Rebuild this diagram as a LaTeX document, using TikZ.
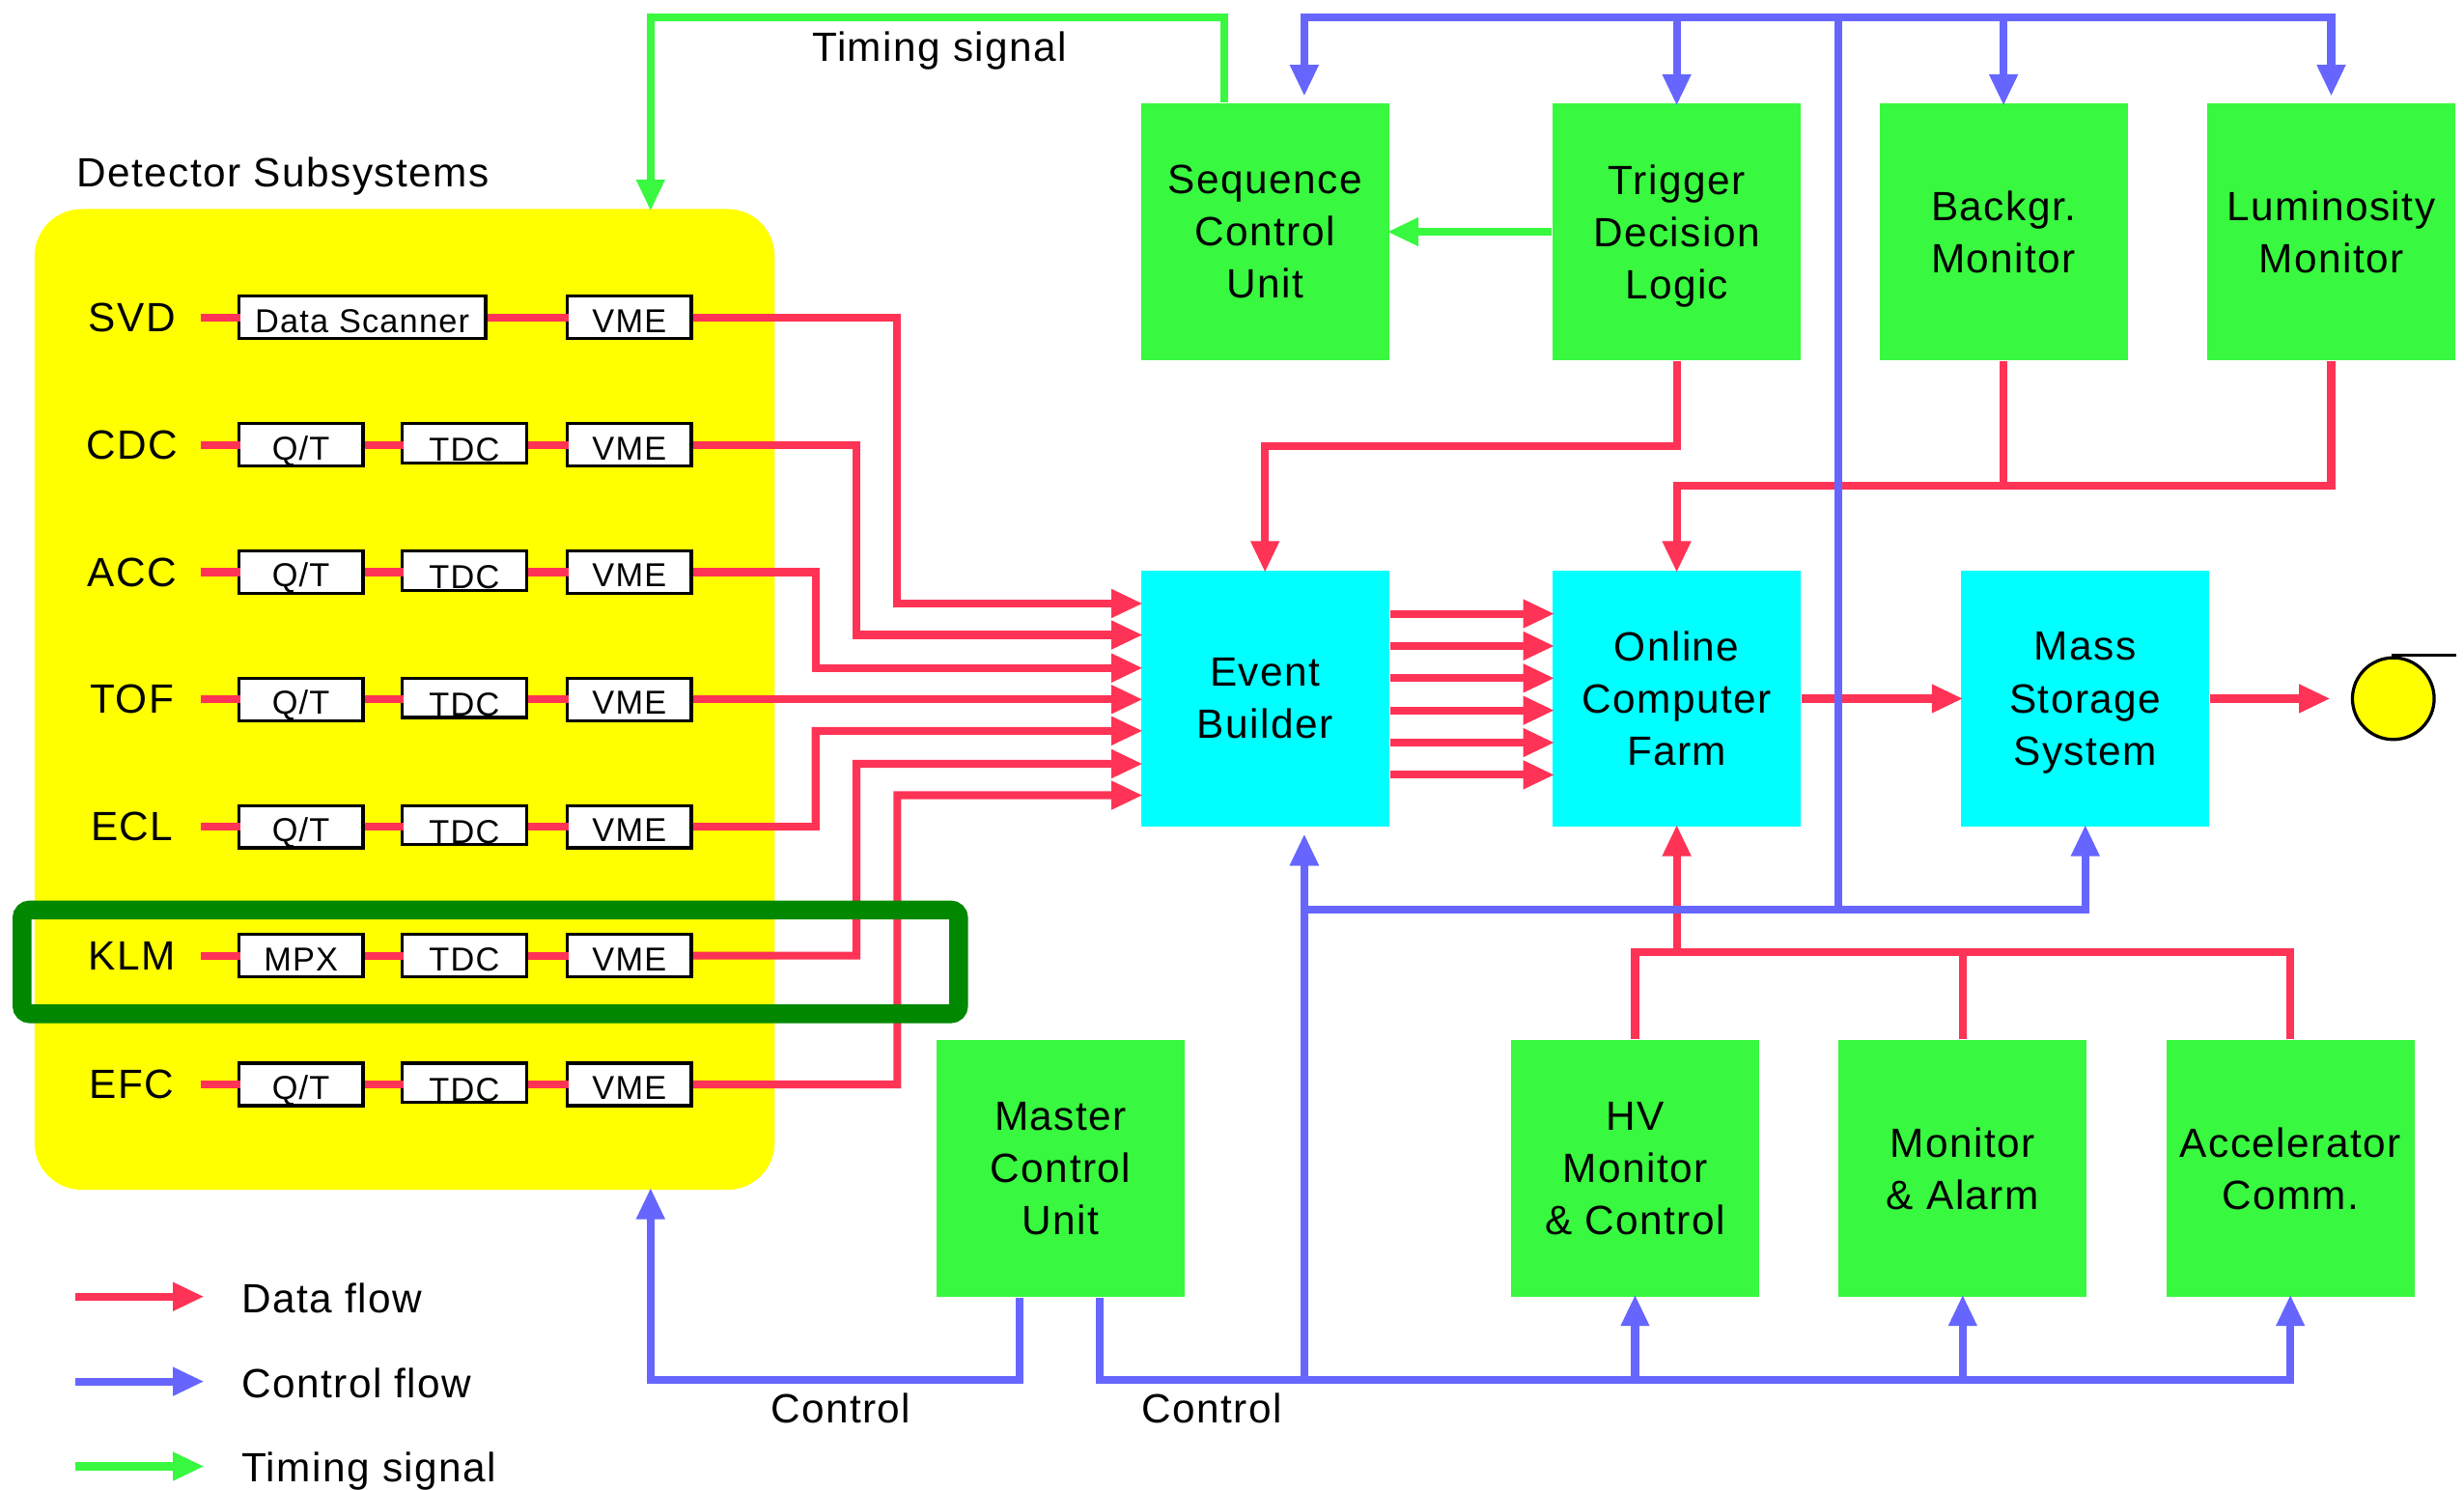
\documentclass[tikz,border=0pt]{standalone}
\usepackage{fontspec}
\setmainfont[LetterSpace=3.5]{Liberation Sans}
\usetikzlibrary{arrows.meta}
\definecolor{data-red}{HTML}{FF3355}
\definecolor{control-blue}{HTML}{6666FF}
\definecolor{unit-green}{HTML}{38F83F}
\definecolor{store-cyan}{HTML}{00FFFF}
\definecolor{detector-yellow}{HTML}{FFFF00}
\definecolor{klm-green}{HTML}{008800}

\begin{document}
\begin{tikzpicture}[x=0.1mm, y=-0.1mm,
    every node/.style={font=\fontsize{7.4}{9.5}\selectfont, inner sep=0pt, align=center},
    unitbox/.style={fill=unit-green, minimum width=15.8mm, minimum height=16.3mm},
    storebox/.style={fill=store-cyan, minimum width=15.8mm, minimum height=16.3mm},
    subbox/.style={draw, fill=white, line width=0.2mm, minimum width=7.9mm, minimum height=2.7mm,
      text height=1.9mm, text depth=0pt, font=\fontsize{6}{7}\selectfont},
    tdcbox/.style={subbox, minimum height=2.5mm, text height=2.3mm},
    sublabel/.style={minimum width=8.6mm},
    dataline/.style={draw=data-red, line width=0.5mm, shorten >=-0.2mm},
    ctrlline/.style={draw=control-blue, line width=0.5mm, shorten >=-0.2mm},
    timeline/.style={draw=unit-green, line width=0.5mm, shorten >=-0.2mm},
    >={Triangle[length=2mm, width=1.7mm]}]
  \useasboundingbox (0,0) rectangle (1568,948);

  % detector side
  \node[fill=detector-yellow, rounded corners=3mm, minimum width=47.1mm, minimum height=62.4mm]
    (det) at (257.5,445) {};
  \node[anchor=west] (detlabel) at (48,112) {Detector Subsystems};

  \node[sublabel] (svd) at (84,202) {SVD};
  \node[subbox, minimum width=15.7mm] (svdd) at (230.5,202) {Data Scanner};
  \node[subbox] (svdv) at (400.5,202) {VME};
  \node[sublabel] (cdc) at (84,283) {CDC};
  \node[subbox] (cdcq) at (191.5,283) {Q/T};
  \node[tdcbox] (cdct) at (295.5,282) {TDC};
  \node[subbox] (cdcv) at (400.5,283) {VME};
  \node[sublabel] (acc) at (84,364) {ACC};
  \node[subbox] (accq) at (191.5,364) {Q/T};
  \node[tdcbox] (acct) at (295.5,363) {TDC};
  \node[subbox] (accv) at (400.5,364) {VME};
  \node[sublabel] (tof) at (84,445) {TOF};
  \node[subbox] (tofq) at (191.5,445) {Q/T};
  \node[tdcbox] (toft) at (295.5,444) {TDC};
  \node[subbox] (tofv) at (400.5,445) {VME};
  \node[sublabel] (ecl) at (84,526) {ECL};
  \node[subbox] (eclq) at (191.5,526) {Q/T};
  \node[tdcbox] (eclt) at (295.5,525) {TDC};
  \node[subbox] (eclv) at (400.5,526) {VME};
  \node[sublabel] (klm) at (84,608) {KLM};
  \node[subbox] (klmm) at (191.5,608) {MPX};
  \node[subbox] (klmt) at (295.5,608) {TDC};
  \node[subbox] (klmv) at (400.5,608) {VME};
  \node[sublabel] (efc) at (84,690) {EFC};
  \node[subbox] (efcq) at (191.5,690) {Q/T};
  \node[tdcbox] (efct) at (295.5,689) {TDC};
  \node[subbox] (efcv) at (400.5,690) {VME};

  % units
  \node[unitbox] (seq) at (805,147.5) {Sequence\\Control\\Unit};
  \node[unitbox] (trig) at (1067,147.5) {Trigger\\Decision\\\smash{Logic}};
  \node[unitbox] (back) at (1275,147.5) {Backgr.\\Monitor};
  \node[unitbox] (lum) at (1483.5,147.5) {Luminosity\\Monitor};
  \node[storebox] (ev) at (805,444.5) {Event\\Builder};
  \node[storebox] (online) at (1067,444.5) {Online\\Computer\\Farm};
  \node[storebox] (mass) at (1327,444.5) {Mass\\Storage\\\smash{System}};
  \node[unitbox] (mcu) at (675,743.5) {Master\\Control\\Unit};
  \node[unitbox] (hv) at (1040.5,743.5) {HV\\Monitor\\\& Control};
  \node[unitbox] (mon) at (1249,743.5) {Monitor\\\& Alarm};
  \node[unitbox] (comm) at (1457.5,743.5) {Accelerator\\Comm.};
  \node[draw, fill=detector-yellow, circle, line width=0.2mm, minimum size=5.2mm] (tape) at (1523,444.5) {};

  \coordinate (tapeend) at (1563,417);
  \draw[line width=0.2mm] (tape.north) |- (tapeend);

  % data flow
  \draw[dataline] (svd.east) -- (svdd.west);
  \draw[dataline] (svdd.east) -- (svdv.west);
  \draw[dataline] (cdc.east) -- (cdcq.west);
  \draw[dataline] (cdcq.east) -- (cdcq.east -| cdct.west);
  \draw[dataline] (cdcv.west -| cdct.east) -- (cdcv.west);
  \draw[dataline] (acc.east) -- (accq.west);
  \draw[dataline] (accq.east) -- (accq.east -| acct.west);
  \draw[dataline] (accv.west -| acct.east) -- (accv.west);
  \draw[dataline] (tof.east) -- (tofq.west);
  \draw[dataline] (tofq.east) -- (tofq.east -| toft.west);
  \draw[dataline] (tofv.west -| toft.east) -- (tofv.west);
  \draw[dataline] (ecl.east) -- (eclq.west);
  \draw[dataline] (eclq.east) -- (eclq.east -| eclt.west);
  \draw[dataline] (eclv.west -| eclt.east) -- (eclv.west);
  \draw[dataline] (klm.east) -- (klmm.west);
  \draw[dataline] (klmm.east) -- (klmt.west);
  \draw[dataline] (klmt.east) -- (klmv.west);
  \draw[dataline] (efc.east) -- (efcq.west);
  \draw[dataline] (efcq.east) -- (efcq.east -| efct.west);
  \draw[dataline] (efcv.west -| efct.east) -- (efcv.west);

  \draw[dataline, ->] (svdv.east) -| (571,384) -- ([shift={(0,-60.5)}]ev.west);
  \draw[dataline, ->] (cdcv.east) -| (545,404) -- ([shift={(0,-40.5)}]ev.west);
  \draw[dataline, ->] (accv.east) -| (519,425) -- ([shift={(0,-19.5)}]ev.west);
  \draw[dataline, ->] (tofv.east) -- (tofv.east -| ev.west);
  \draw[dataline, ->] (eclv.east) -| (519,465) -- ([shift={(0,20.5)}]ev.west);
  \draw[dataline, ->] (klmv.east) -| (545,486) -- ([shift={(0,41.5)}]ev.west);
  \draw[dataline, ->] (efcv.east) -| (571,506) -- ([shift={(0,61.5)}]ev.west);

  \draw[dataline, ->] ([shift={(0,-54)}]ev.east) -- ([shift={(0,-54)}]online.west);
  \draw[dataline, ->] ([shift={(0,-33.5)}]ev.east) -- ([shift={(0,-33.5)}]online.west);
  \draw[dataline, ->] ([shift={(0,-13)}]ev.east) -- ([shift={(0,-13)}]online.west);
  \draw[dataline, ->] ([shift={(0,7.5)}]ev.east) -- ([shift={(0,7.5)}]online.west);
  \draw[dataline, ->] ([shift={(0,28)}]ev.east) -- ([shift={(0,28)}]online.west);
  \draw[dataline, ->] ([shift={(0,48.5)}]ev.east) -- ([shift={(0,48.5)}]online.west);
  \draw[dataline, ->] (online.east) -- (mass.west);
  \draw[dataline, ->, shorten >=1.3mm] (mass.east) -- (tape.west);

  \draw[dataline, ->] (trig.south) -- ++(0,54) -| (ev.north);
  \coordinate (lumbus) at (1067,309);
  \draw[dataline, ->] (lum.south) |- (lumbus) -- (online.north);
  \draw[dataline] (back.south) -- (back.south |- lumbus);
  \coordinate (almbus) at (1067,606);
  \draw[dataline, ->] (almbus) -- (online.south);
  \draw[dataline] (hv.north) |- (almbus);
  \draw[dataline] (comm.north) |- (almbus);
  \draw[dataline] (mon.north) -- (mon.north |- almbus);

  % control flow
  \coordinate (ctltop) at (1170,11);
  \coordinate (ctlmid) at (1170,579);
  \coordinate (ctlbot) at (1457.5,878);
  \coordinate (seqin) at ([shift={(25,0)}]seq.north);
  \coordinate (evin) at ([shift={(25,0)}]ev.south);
  \coordinate (detin) at ([shift={(156.5,0)}]det.south);
  \coordinate (ctlleft) at (detin |- ctlbot);
  \draw[ctrlline] (ctltop) -- (ctlmid);
  \draw[ctrlline, ->, shorten >=.4mm] (ctltop) -| (seqin);
  \draw[ctrlline, ->] (trig.north |- ctltop) -- (trig.north);
  \draw[ctrlline, ->] (back.north |- ctltop) -- (back.north);
  \draw[ctrlline, ->, shorten >=.4mm] (ctltop) -| (lum.north);
  \draw[ctrlline, ->] (ctlmid) -| (mass.south);
  \draw[ctrlline, ->, shorten >=.4mm] (ctlmid) -| (evin);
  \draw[ctrlline, ->, shorten >=.4mm] (evin |- ctlbot) -- (evin);
  \draw[ctrlline, ->] ([shift={(-26,0)}]mcu.south) |- (ctlleft) -- (detin);
  \draw[ctrlline, ->] ([shift={(25,0)}]mcu.south) |- (ctlbot) -- (comm.south);
  \draw[ctrlline, ->] (hv.south |- ctlbot) -- (hv.south);
  \draw[ctrlline, ->] (mon.south |- ctlbot) -- (mon.south);
  \node (ctlA) at (535,896) {Control};
  \node (ctlB) at (771,896) {Control};

  % timing
  \coordinate (seqout) at ([shift={(-26,0)}]seq.north);
  \coordinate (timin) at ([shift={(156.5,0)}]det.north);
  \coordinate (timtop) at (timin |- ctltop);
  \draw[timeline, ->] (seqout) |- (timtop) -- (timin);
  \draw[timeline, ->] (trig.west) -- (seq.east);
  \node (timlabel) at (598,32) {Timing signal};

  % highlight
  \node[draw=klm-green, line width=1.2mm, rounded corners=0.5mm, minimum width=59.6mm, minimum height=6.6mm]
    (klmbox) at (312,612) {};

  % legend
  \coordinate (dataA) at (48,825);
  \coordinate (dataB) at (128,825);
  \coordinate (ctrlA) at (48,879);
  \coordinate (ctrlB) at (128,879);
  \coordinate (timeA) at (48,933);
  \coordinate (timeB) at (128,933);
  \draw[dataline, ->] (dataA) -- (dataB);
  \draw[ctrlline, ->] (ctrlA) -- (ctrlB);
  \draw[timeline, ->] (timeA) -- (timeB);
  \node[anchor=west] (datalabel) at (153,826) {Data flow};
  \node[anchor=west] (ctrllabel) at (153,880) {Control flow};
  \node[anchor=west] (timelabel) at (153,936) {Timing signal};
\end{tikzpicture}
\end{document}
